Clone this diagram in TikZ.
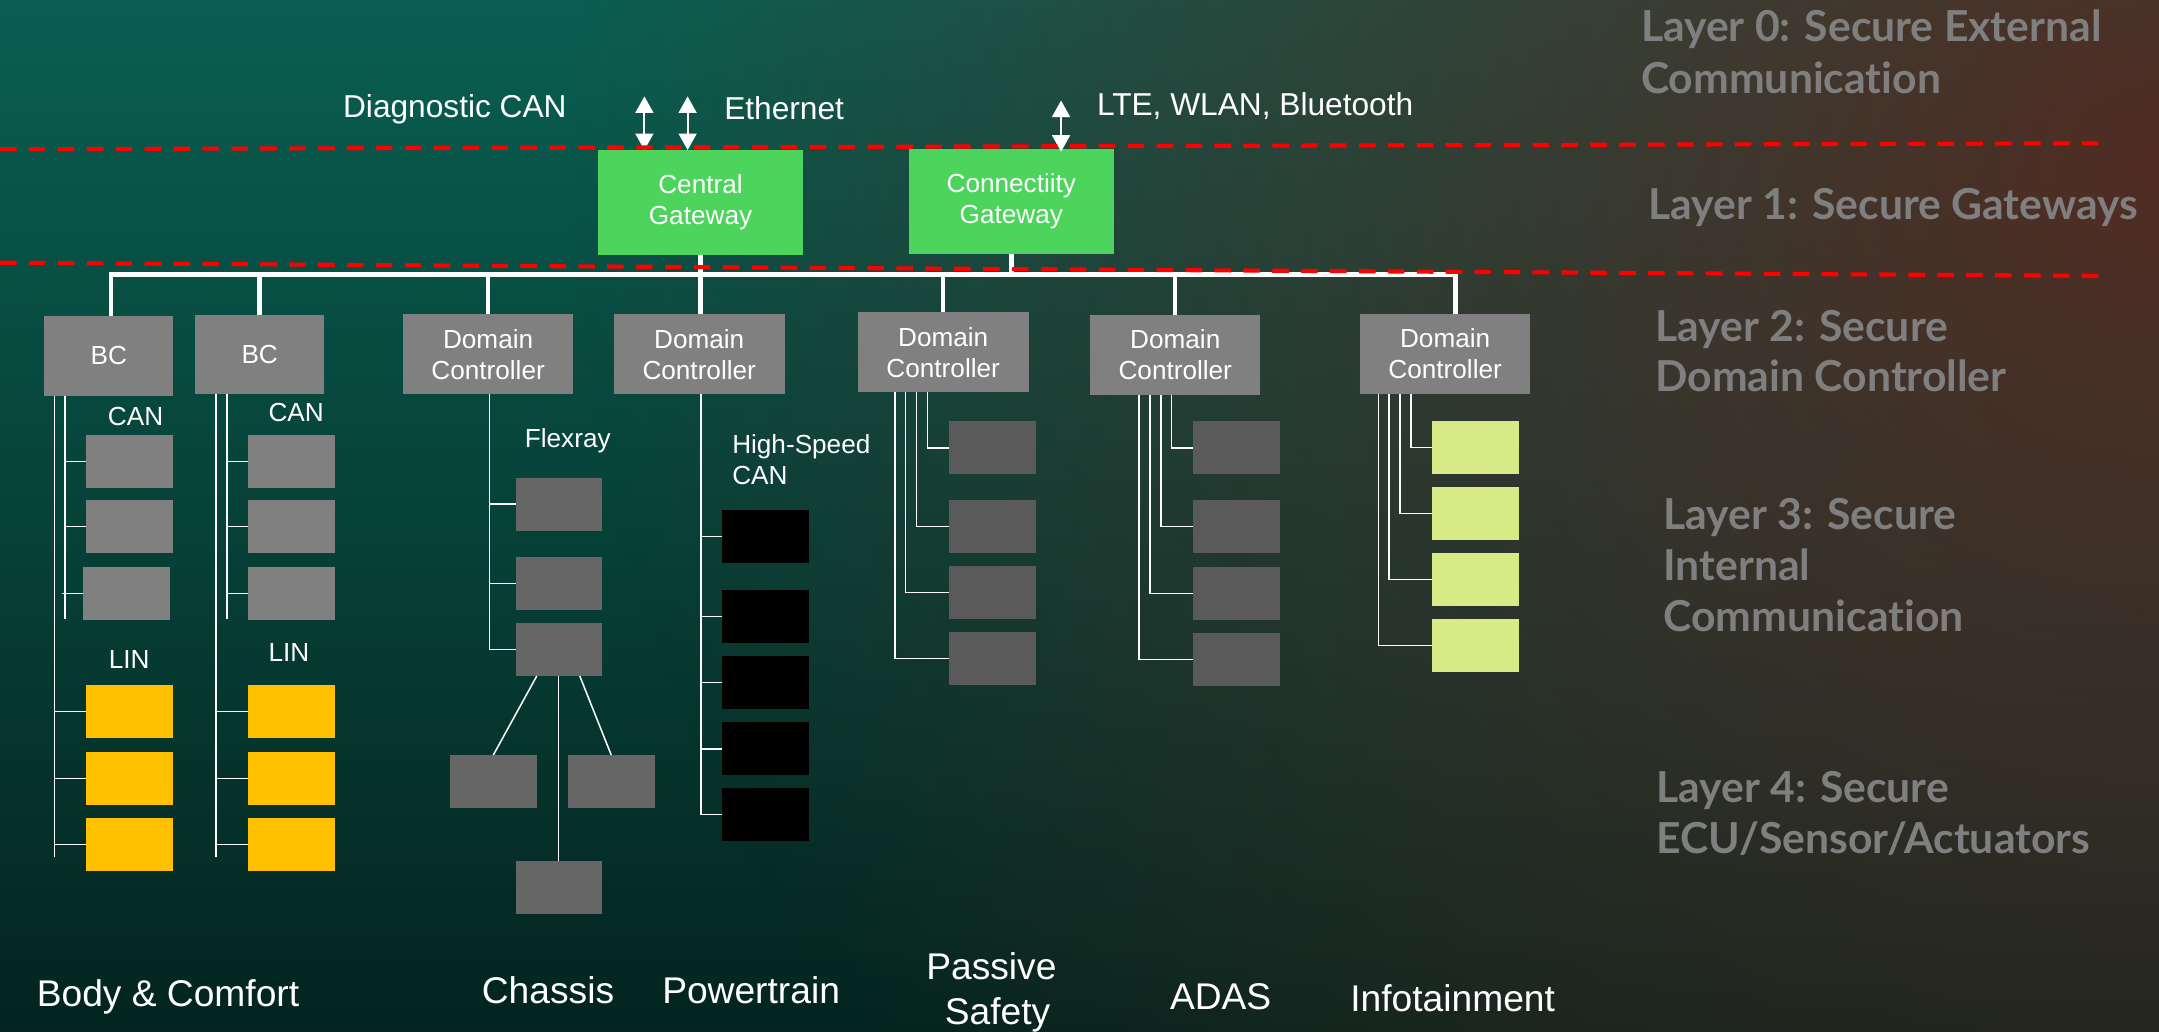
\documentclass[tikz,border=0pt]{standalone}
\usepackage{fontspec}
\setmainfont{Liberation Sans}
\newfontfamily\layerfont{Lato}[Ligatures=NoCommon]
\usetikzlibrary{arrows.meta,fadings}

\definecolor{bgtop}{HTML}{0A5F52}
\definecolor{bgmid}{HTML}{06392F}
\definecolor{bgbot}{HTML}{03241E}
\definecolor{glowbrown}{HTML}{552A21}
\definecolor{gwgreen}{HTML}{4CD45C}
\definecolor{ctrlgray}{HTML}{808080}
\definecolor{chgray}{HTML}{666666}
\definecolor{dkgray}{HTML}{5A5A5A}
\definecolor{amber}{HTML}{FFC000}
\definecolor{infolime}{HTML}{D7EA85}
\definecolor{layergray}{HTML}{7F7F7F}

\tikzfading[name=glowfade, inner color=transparent!5, outer color=transparent!100]

\tikzset{
  box/.style={rectangle, inner sep=0pt, outer sep=0pt, anchor=north west},
  gw/.style={box, fill=gwgreen, text=white, align=center,
    font=\fontsize{19}{22.5}\selectfont},
  ctrl/.style={box, fill=ctrlgray, text=white, align=center,
    font=\fontsize{19}{22.5}\selectfont},
  ecu/.style={box, minimum width=63pt, minimum height=38.4pt},
  bus/.style={draw=white, line width=3.2pt},
  wire/.style={draw=white, line width=1.1pt},
  biarrow/.style={draw=white, line width=1.4pt,
    {Triangle[width=13pt,length=12pt]}-{Triangle[width=13pt,length=12pt]}},
  reddash/.style={draw=red, line width=3pt, dash pattern=on 12pt off 9pt},
  toplbl/.style={text=white, inner sep=0pt, anchor=base west,
    font=\fontsize{23}{27}\selectfont},
  buslbl/.style={text=white, inner sep=0pt, anchor=base west,
    font=\fontsize{19}{23}\selectfont},
  domlbl/.style={text=white, inner sep=0pt, anchor=base,
    font=\fontsize{27}{32}\selectfont},
  layerlbl/.style={text=layergray, inner sep=0pt, anchor=base west,
    font=\layerfont\bfseries\fontsize{31}{37}\selectfont},
}

\begin{document}
\begin{tikzpicture}[x=1pt,y=-1pt]
\useasboundingbox (0,0) rectangle (1568,749);

% background
\begin{scope}
  \clip (0,0) rectangle (1568,749);
  \shade[top color=bgtop, middle color=bgmid, bottom color=bgbot] (0,0) rectangle (1568,749);
  \fill[glowbrown, path fading=glowfade] (1568,120) ellipse [x radius=1150pt, y radius=1100pt];
\end{scope}

% layer 1: gateways
\node[gw, minimum width=148.5pt, minimum height=76pt] (cg) at (434.5,109) {Central\\Gateway};
\node[gw, minimum width=149pt, minimum height=76.5pt] (cnx) at (660,108.2) {Connectiity\\Gateway};

% layer 2: body controllers and domain controllers
\node[ctrl, minimum width=94pt, minimum height=58pt] (bc1) at (32,229.5) {BC};
\node[ctrl, minimum width=94pt, minimum height=57.5pt] (bc2) at (141.6,228.5) {BC};
\node[ctrl, minimum width=124pt, minimum height=58pt] (dc1) at (292.5,228.3) {Domain\\Controller};
\node[ctrl, minimum width=124pt, minimum height=58pt] (dc2) at (445.8,228.3) {Domain\\Controller};
\node[ctrl, minimum width=124pt, minimum height=58pt] (dc3) at (623,226.8) {Domain\\Controller};
\node[ctrl, minimum width=123.5pt, minimum height=58pt] (dc4) at (791.8,228.8) {Domain\\Controller};
\node[ctrl, minimum width=123.7pt, minimum height=58pt] (dc5) at (987.7,228.1) {Domain\\Controller};

% body & comfort ECUs
\foreach \c/\x in {1/62.5, 2/180.1} {
  \node[ecu, fill=ctrlgray] (can\c1) at (\x,316) {};
  \node[ecu, fill=ctrlgray] (can\c2) at (\x,363.1) {};
  \node[ecu, fill=amber] (lin\c1) at (\x,497.5) {};
  \node[ecu, fill=amber] (lin\c2) at (\x,546.1) {};
  \node[ecu, fill=amber] (lin\c3) at (\x,594) {};
}
\node[ecu, fill=ctrlgray] (can13) at (60.3,411.8) {};
\node[ecu, fill=ctrlgray] (can23) at (180.1,411.8) {};

% chassis ECUs
\node[ecu, fill=chgray, minimum width=62.5pt] (fx1) at (374.5,347) {};
\node[ecu, fill=chgray, minimum width=62.5pt] (fx2) at (374.5,404.5) {};
\node[ecu, fill=chgray, minimum width=62.5pt] (fx3) at (374.5,452.5) {};
\node[ecu, fill=chgray, minimum width=63pt] (fl) at (326.8,548.3) {};
\node[ecu, fill=chgray, minimum width=63pt] (fr) at (412.4,548.3) {};
\node[ecu, fill=chgray, minimum width=62.5pt] (fb) at (374.5,625.3) {};

% powertrain ECUs
\foreach \i/\y in {1/370.4, 2/428.5, 3/476.4, 4/524.4, 5/572.3}
  \node[ecu, fill=black, minimum height=38.8pt] (hs\i) at (524.4,\y) {};

% passive safety, ADAS and infotainment ECUs
\foreach \i/\y in {1/306, 2/363.1, 3/411, 4/459}
  \node[ecu, fill=dkgray] (ps\i) at (689.2,\y) {};
\foreach \i/\y in {1/306, 2/363, 3/411.8, 4/459.7}
  \node[ecu, fill=dkgray] (ad\i) at (866.4,\y) {};
\foreach \i/\y in {1/305.8, 2/353.7, 3/401.6, 4/449.6}
  \node[ecu, fill=infolime] (if\i) at (1040,\y) {};

% backbone bus
\coordinate (busL) at (80.5,199.5);
\coordinate (busR) at (1057,199.5);
\draw[bus, line join=miter] (busL |- bc1.north) -- (busL) -- (busR) -- (busR |- dc5.north);
\foreach \n in {bc2, dc1, dc3, dc4}
  \draw[bus] (\n.north) -- (\n.north |- busL);
\draw[bus] (cg.south) -- (cg.south |- dc2.north);
\draw[bus] (cnx.south) -- (cnx.south |- busL);

% external links
\coordinate (diagend) at (468,70);
\coordinate (ethend) at (499.4,70);
\coordinate (wlend) at (770.6,73);
\draw[biarrow] (diagend) -- (diagend |- cg.north);
\draw[biarrow] (ethend) -- (ethend |- cg.north);
\draw[biarrow] (wlend) -- ([yshift=-2pt]wlend |- cnx.north);

% body & comfort: CAN and LIN lines
\coordinate (b1long) at (39.5,287.6);
\coordinate (b1short) at (47.2,287.6);
\coordinate (b2long) at (156.9,286.1);
\coordinate (b2short) at (164.8,286.1);
\draw[wire] (b1long) -- (b1long |- 0,622.6);
\draw[wire] (b1short) -- (b1short |- 0,449.8);
\draw[wire] (b2long) -- (b2long |- 0,622.6);
\draw[wire] (b2short) -- (b2short |- 0,449.8);
\draw[wire] (can11.west -| b1short) -- (can11.west);
\draw[wire] (can12.west -| b1short) -- (can12.west);
\draw[wire] ([xshift=-15.5pt]can13.west) -- (can13.west);
\foreach \i in {1,2,3} {
  \draw[wire] (lin1\i.west -| b1long) -- (lin1\i.west);
  \draw[wire] (can2\i.west -| b2short) -- (can2\i.west);
  \draw[wire] (lin2\i.west -| b2long) -- (lin2\i.west);
}

% chassis: Flexray
\coordinate (frtap) at ([xshift=1pt]dc1.south);
\draw[wire] (frtap) |- (fx3.west);
\draw[wire] (fx1.west -| frtap) -- (fx1.west);
\draw[wire] (fx2.west -| frtap) -- (fx2.west);
\draw[wire] ([xshift=-15.9pt]fx3.south) -- (fl.north);
\draw[wire] ([xshift=15.3pt]fx3.south) -- (fr.north);
\draw[wire] (fx3.south) -- (fb.north);

% powertrain: high-speed CAN
\coordinate (hstap) at ([xshift=1.3pt]dc2.south);
\draw[wire] (hstap) |- (hs5.west);
\foreach \i in {1,2,3,4}
  \draw[wire] (hs\i.west -| hstap) -- (hs\i.west);

% passive safety, ADAS, infotainment: point-to-point lines
\foreach \i/\d in {1/-11.3, 2/-19.5, 3/-27.3, 4/-35}
  \draw[wire] ([xshift=\d pt]dc3.south) |- (ps\i.west);
\foreach \i/\d in {1/-2.8, 2/-10.5, 3/-18.3, 4/-26.4}
  \draw[wire] ([xshift=\d pt]dc4.south) |- (ad\i.west);
\foreach \i/\d in {1/-24.75, 2/-32.75, 3/-40.75, 4/-48.55}
  \draw[wire] ([xshift=\d pt]dc5.south) |- (if\i.west);

% layer boundaries
\draw[reddash] (0,108.4) -- (1525,104.1);
\draw[reddash] (0,190.8) -- (1530,200.4);

% link labels
\node[toplbl] (diaglbl) at (249,85) {Diagnostic CAN};
\node[toplbl] (ethlbl) at (525.8,87) {Ethernet};
\node[toplbl] (wllbl) at (796.5,84.2) {LTE, WLAN, Bluetooth};

% bus labels
\node[buslbl] (canlbl1) at (78.2,308.7) {CAN};
\node[buslbl] (canlbl2) at (194.8,305.8) {CAN};
\node[buslbl] (linlbl1) at (78.8,485.6) {LIN};
\node[buslbl] (linlbl2) at (194.9,480.5) {LIN};
\node[buslbl] (frlbl) at (381,325) {Flexray};
\node[buslbl] (hslbla) at (531.6,329) {High-Speed};
\node[buslbl] (hslblb) at (531.6,352) {CAN};

% domain names
\node[domlbl] (dbody) at (122,731) {Body \& Comfort};
\node[domlbl] (dchassis) at (398,728.7) {Chassis};
\node[domlbl] (dpower) at (545.5,728.7) {Powertrain};
\node[domlbl] (dpassa) at (720,711.7) {Passive};
\node[domlbl] (dpassb) at (724.5,743.7) {Safety};
\node[domlbl] (dadas) at (886.5,733.5) {ADAS};
\node[domlbl] (dinfo) at (1055,734.7) {Infotainment};

% layer captions
\node[layerlbl] (l0a) at (1191.6,30.3) {Layer 0: Secure External};
\node[layerlbl] (l0b) at (1191.6,67.8) {Communication};
\node[layerlbl] (l1) at (1197,159.3) {Layer 1: Secure Gateways};
\node[layerlbl] (l2a) at (1202,247.9) {Layer 2: Secure};
\node[layerlbl] (l2b) at (1202,284.6) {Domain Controller};
\node[layerlbl] (l3a) at (1208,384.6) {Layer 3: Secure};
\node[layerlbl] (l3b) at (1208,421.6) {Internal};
\node[layerlbl] (l3c) at (1208,458.3) {Communication};
\node[layerlbl] (l4a) at (1202.7,582.8) {Layer 4: Secure};
\node[layerlbl] (l4b) at (1202.7,619.5) {ECU/Sensor/Actuators};
\end{tikzpicture}
\end{document}
